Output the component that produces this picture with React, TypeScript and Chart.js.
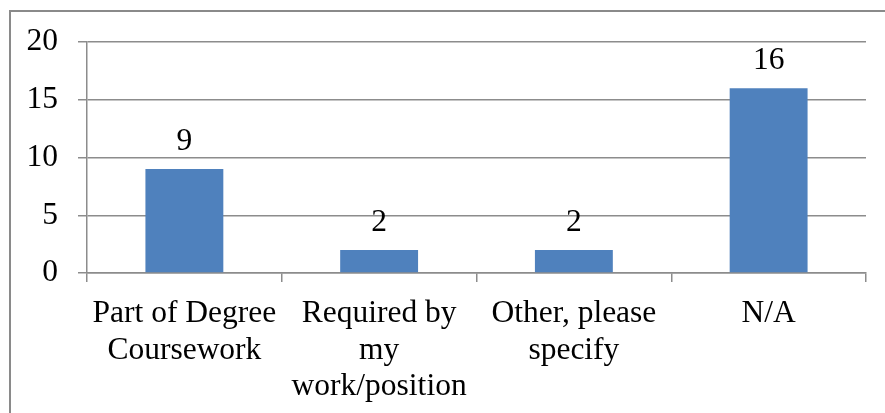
import React, { useEffect, useRef } from "react";
import { Chart, registerables } from "chart.js";

Chart.register(...registerables);

const categories: string[][] = [
  ["Part of Degree", "Coursework"],
  ["Required by", "my", "work/position"],
  ["Other, please", "specify"],
  ["N/A"],
];
const values: number[] = [9, 2, 2, 16];
const yTicks = { min: 0, max: 20, step: 5 };

const FONT = '"Liberation Serif", "Times New Roman", serif';
const FS = 31.5;

const dataLabels = {
  id: "dataLabels",
  afterDatasetsDraw(chart: any) {
    const ctx = chart.ctx;
    const meta = chart.getDatasetMeta(0);
    ctx.save();
    ctx.font = `${FS}px ${FONT}`;
    ctx.fillStyle = "#000";
    ctx.textAlign = "center";
    ctx.textBaseline = "alphabetic";
    meta.data.forEach((bar: any, i: number) => {
      ctx.fillText(String(values[i]), bar.x, bar.y - 19);
    });
    ctx.restore();
  },
};

export default function App() {
  const ref = useRef<HTMLCanvasElement>(null);
  useEffect(() => {
    if (!ref.current) return;
    const chart = new Chart(ref.current, {
      type: "bar",
      data: {
        labels: categories,
        datasets: [
          {
            data: values,
            backgroundColor: "#4F81BD",
            barPercentage: 0.4,
            categoryPercentage: 1,
          },
        ],
      },
      options: {
        animation: false,
        responsive: false,
        maintainAspectRatio: false,
        layout: { padding: { left: 0, right: 19, top: 42, bottom: 0 } },
        plugins: { legend: { display: false }, tooltip: { enabled: false } },
        scales: {
          x: {
            afterFit: (s: any) => {
              s.height = 140;
            },
            grid: {
              drawOnChartArea: false,
              drawTicks: true,
              tickLength: 9,
              color: "#8c8c8c",
              lineWidth: 1.5,
            },
            border: { display: true, color: "#8c8c8c", width: 1.5 },
            ticks: {
              color: "#000",
              font: { family: FONT, size: FS, lineHeight: 1.17 },
              padding: 13,
              maxRotation: 0,
              autoSkip: false,
            },
          },
          y: {
            min: yTicks.min,
            max: yTicks.max,
            afterFit: (s: any) => {
              s.width = 87;
            },
            grid: {
              color: "#8c8c8c",
              lineWidth: 1.5,
              tickLength: 9,
            },
            border: { display: true, color: "#8c8c8c", width: 1.5 },
            ticks: {
              stepSize: yTicks.step,
              color: "#000",
              font: { family: FONT, size: FS },
              padding: 20,
            },
          },
        },
      },
      plugins: [dataLabels],
    });
    return () => chart.destroy();
  }, []);
  return (
    <div
      style={{
        position: "absolute",
        left: 0,
        top: 0,
        width: 885,
        height: 413,
        overflow: "hidden",
        background: "#fff",
      }}
    >
      <div
        style={{
          position: "absolute",
          left: 9,
          top: 10,
          width: 900,
          height: 450,
          borderLeft: "2px solid #8a8a8a",
          borderTop: "2px solid #8a8a8a",
        }}
      />
      <canvas
        ref={ref}
        width={885}
        height={413}
        style={{ position: "absolute", left: 0, top: 0 }}
      />
    </div>
  );
}
